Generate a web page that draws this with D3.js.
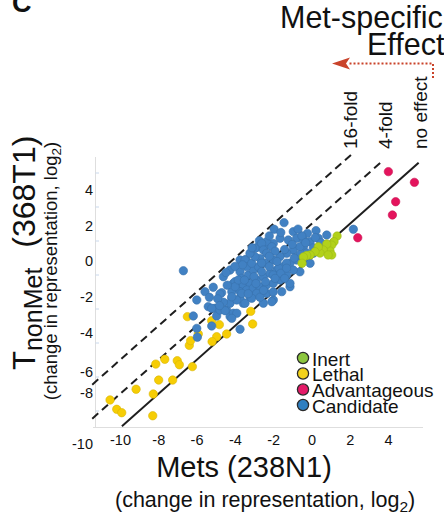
<!DOCTYPE html>
<html><head><meta charset="utf-8">
<script src="https://cdn.jsdelivr.net/npm/d3@7"></script>
<style>body{margin:0;background:#fff}svg{display:block;font-family:"Liberation Sans",Arial,Helvetica,sans-serif}</style>
</head><body><svg id="c" width="444" height="518"></svg>
<script>
// ---- data (log2 change in representation: [Mets (238N1), TnonMet (368T1)]) ----
const categories = ["Inert", "Lethal", "Advantageous", "Candidate"];
const xTicks = [-10, -8, -6, -4, -2, 0, 2, 4];
const yTicks = [4, 2, 0, -2, -4, -6, -8, -10];
const yMinorTicks = [5, 3, 1, -1, -3, -5, -7, -9];
const foldLines = [{label: "16-fold", offset: 4}, {label: "4-fold", offset: 2}, {label: "no effect", offset: 0}];

const lethal = [[-10.52,-8.35],[-10.17,-8.90],[-9.91,-9.10],[-8.29,-9.28],[-9.16,-7.72],[-8.26,-8.00],
 [-7.98,-7.18],[-8.13,-6.24],[-7.66,-5.96],[-7.25,-7.18],[-7.01,-6.04],[-6.90,-6.28],[-6.22,-6.39],
 [-6.38,-5.14],[-6.31,-4.86],[-5.91,-4.47],[-4.95,-4.63],[-4.43,-4.47],[-5.19,-4.92],[-4.81,-3.92],
 [-5.21,-3.69],[-6.48,-3.45],[-3.07,-3.88],[-3.17,-3.14]];

const advantageous = [[4.02,5.08],[5.38,4.45],[4.40,3.31],[4.23,2.53],[2.42,1.19]];

const inert = [[1.34,1.29],[1.18,0.96],[1.06,0.76],[0.97,0.41],[1.06,0.18],[0.80,0.82],[0.62,0.47],
 [0.45,0.29],[0.36,0.66],[0.19,0.37],[-0.07,0.18],[-0.25,0.15],[-0.42,0.06],[-0.49,-0.31],[0.87,0.18]];

const candidate = [[-6.69,-0.75],[-6.17,-3.41],[-5.99,-4.14],[-5.96,-4.66],[-5.99,-2.47],[-5.56,-1.98],
 [-5.39,-2.86],[-5.21,-4.00],[-5.04,-2.96],[-4.95,-3.41],[-4.78,-3.06],[-4.43,-3.06],[-4.25,-3.45],
 [-4.08,-3.25],[-3.73,-4.19],[-5.13,-1.72],[-4.60,-1.10],[-4.25,-0.71],[-3.73,-0.12],[-3.42,-0.08],
 [-4.46,-0.86],[-4.69,-2.04],[-5.33,-2.31],[-2.72,1.02],[-2.83,0.63],[-2.37,0.76],[-1.43,2.08],
 [-1.95,1.69],[-0.95,1.55],[-0.21,1.45],[0.24,1.61],[0.80,1.35],[2.19,1.69],[-1.21,1.06],[-0.77,1.16],
 [-0.42,1.06],[-0.07,0.96],[0.36,1.16],[-1.64,1.16],[-1.99,0.86],[-2.34,0.96],[-2.60,0.86],[-2.95,0.57],
 [-3.47,-0.12],[-3.73,-0.81],[-4.08,-1.49],[-4.16,-1.98],[-2.51,0.47],[-2.07,0.66],[-0.42,0.66],
 [-0.07,-0.31],[-0.60,-0.81],[-1.12,-1.69],[-1.55,-1.98],[-1.99,-2.47],[-2.51,-2.66],[-3.04,-2.08],
 [-3.56,-2.66],[-3.90,-3.25],[0.10,0.28],[-3.99,-1.39],[-3.64,-1.19],[-3.30,-1.00],[-3.04,-0.71],
 [-2.77,-0.51],[-2.42,-0.31],[-3.38,-0.51],[-3.12,-0.31],[-2.69,-0.02],[-2.34,0.28],[-3.90,-1.69],
 [-3.56,-1.59],[-3.21,-1.49],[-2.86,-1.29],[-2.51,-1.10],[-2.16,-0.90],[-3.73,-1.98],[-3.38,-1.88],
 [-3.04,-1.78],[-2.69,-1.69],[-2.34,-1.59],[-4.16,-2.37],[-3.73,-2.37],[-3.21,-2.31],[-2.77,-2.18],
 [-2.34,-2.08],[-2.95,0.08],[-3.21,0.28],[-0.95,0.47],[-1.29,0.28],[-1.64,0.08],[-1.99,-0.12],
 [-0.60,0.66],[-0.77,-0.12],[-1.12,-0.31],[-1.47,-0.51],[-1.81,-0.71],[-0.95,-0.71],[-1.29,-1.00],
 [-1.64,-1.29],[-1.99,-1.49],[-1.12,-1.49],[-4.25,-2.66],[-3.90,-2.47],[-3.64,-2.08],[-2.86,-2.08],
 [-2.07,-2.57],[-3.47,-2.66],[-3.12,-2.37],[-2.69,-2.31],[-4.51,-3.10],[-4.16,-3.55],[-5.21,-2.96],
 [-4.78,-2.12],[-0.42,-0.02],[-0.25,0.30],[0.10,0.60],[-0.60,0.20],[-0.90,0.00],[-1.30,-0.30],
 [-1.70,-0.60],[-2.00,-1.00],[-1.80,-0.20],[-1.40,0.50],[-1.00,0.80],[-0.50,1.30],[-1.90,0.40],
 [-2.20,0.10],[-2.60,-0.30],[-4.16,-2.28],[-3.99,-1.69],[-3.82,-1.29],[-3.00,-1.10],[-2.60,-0.80],
 [-2.20,-0.50],[-1.60,-0.90],[-2.40,-1.40],[-2.90,-1.50],[-3.50,-1.30],[-3.30,-2.10],[-2.50,-1.90],
 [-1.90,-1.20],[-1.30,-0.60],[-0.30,0.90],[0.50,0.90],[0.20,1.20],[-4.60,-2.60],[-4.40,-1.60],
 [-4.90,-2.40],[-1.60,1.50],[-2.20,1.30],[-0.70,1.70],[-3.10,0.60],[-3.60,-0.40],[-4.00,-0.50],
 [-4.80,-2.80],[-2.00,-2.00],[-1.40,-1.20]];

const colors = {Inert: "#b2d11a", Lethal: "#f6cd05", Advantageous: "#e4145d", Candidate: "#4181c3"};
const legendColors = {Inert: "#8cc63e", Lethal: "#f2d21c", Advantageous: "#e41a68", Candidate: "#2f7fc1"};

// ---- drawing ----
const FONT = '"Liberation Sans", Arial, Helvetica, sans-serif';
const svg = d3.select("#c");
svg.append("rect").attr("width", 444).attr("height", 518).attr("fill", "#fff");

const x = d3.scaleLinear().domain([-10, 4]).range([120, 388]);
const y = d3.scaleLinear().domain([-10, 6]).range([428, 156]);
const yLab = d3.scaleLinear().domain([-4, 4]).range([333, 190.5]);

// faint axis frame
svg.append("line").attr("x1", 95.5).attr("x2", 95.5).attr("y1", 157).attr("y2", 427.5)
  .attr("stroke", "#dedede").attr("stroke-width", 1);
svg.append("line").attr("x1", 93).attr("x2", 423).attr("y1", 427.5).attr("y2", 427.5)
  .attr("stroke", "#dedede").attr("stroke-width", 1);
svg.append("g").selectAll("line").data(yMinorTicks).join("line")
  .attr("x1", 95.5).attr("x2", 99).attr("y1", d => y(d)).attr("y2", d => y(d))
  .attr("stroke", "#c9d8ec").attr("stroke-width", 1);

// x axis
const gx = svg.append("g").attr("transform", "translate(0,427)")
  .call(d3.axisBottom(x).tickValues(xTicks).tickSize(0).tickPadding(8).tickFormat(d => String(d)));
gx.select(".domain").remove();
gx.attr("font-size", 14.5).attr("font-family", FONT);
gx.selectAll("text").attr("fill", "#111");

// y axis (labels as printed in the figure)
const labNudge = {"-6": 3.4, "-8": -11, "-10": 4};
const gy = svg.append("g").attr("transform", "translate(93,0)")
  .call(d3.axisLeft(yLab).tickValues(yTicks).tickSize(0).tickPadding(0).tickFormat(d => String(d)));
gy.select(".domain").remove();
gy.attr("font-size", 14.5).attr("font-family", FONT);
gy.selectAll(".tick").attr("transform", d => `translate(0,${yLab(d) + (labNudge[String(d)] || 0)})`);
gy.selectAll("text").attr("fill", "#111");

// reference lines (y = x + offset)
const extents = {"no effect": [-9.9, 5.6], "4-fold": [-11.45, 3.75], "16-fold": [-11.45, 2.2]};
const lineGen = d3.line().x(d => x(d[0])).y(d => y(d[1]));
svg.append("g").selectAll("path").data(foldLines).join("path")
  .attr("d", d => lineGen(extents[d.label].map(v => [v, v + d.offset])))
  .attr("fill", "none").attr("stroke", "#1e1e1e").attr("stroke-width", 2)
  .attr("stroke-dasharray", d => d.offset === 0 ? null : "8,5");

// points
function dots(data, color) {
  svg.append("g").selectAll("circle").data(data).join("circle")
    .attr("cx", d => x(d[0])).attr("cy", d => y(d[1])).attr("r", 4.2)
    .attr("fill", color).attr("stroke", d3.color(color).darker(0.35)).attr("stroke-width", 0.6);
}
dots(lethal, colors.Lethal);
dots(candidate, colors.Candidate);
dots(inert, colors.Inert);
dots(advantageous, colors.Advantageous);

// rotated line labels
const labelX = {"16-fold": 357, "4-fold": 392, "no effect": 427};
svg.append("g").selectAll("text").data(foldLines).join("text")
  .attr("transform", d => `translate(${labelX[d.label]},149) rotate(-90)`)
  .attr("font-size", 19).attr("font-family", FONT).attr("fill", "#111")
  .text(d => d.label);

// legend
const lg = svg.append("g");
const legY = [358, 373.5, 389.5, 405];
categories.forEach((c, i) => {
  lg.append("circle").attr("cx", 303).attr("cy", legY[i]).attr("r", 5.6)
    .attr("fill", legendColors[c]).attr("stroke", "#2a2a2a").attr("stroke-width", 1.3);
  lg.append("text").attr("x", 312).attr("y", legY[i] + 7.5).attr("font-size", 19)
    .attr("font-family", FONT).attr("fill", "#111").text(c);
});

// top annotation
svg.append("text").attr("x", 280).attr("y", 28).attr("font-size", 30.5).attr("font-family", FONT)
  .attr("fill", "#111").text("Met-specific");
svg.append("text").attr("x", 367).attr("y", 55).attr("font-size", 30.5).attr("font-family", FONT)
  .attr("fill", "#111").text("Effect");
const red = "#c9432a";
svg.append("path").attr("d", "M433,78 L433,63.5 L348,63.5")
  .attr("fill", "none").attr("stroke", red).attr("stroke-width", 2).attr("stroke-dasharray", "2,2");
svg.append("path").attr("d", "M332,63.5 L350,57.5 L346,63.5 L350,69.5 Z").attr("fill", red);

// panel letter
svg.append("text").attr("x", 12).attr("y", 12).attr("font-size", 27).attr("font-weight", "bold")
  .attr("font-family", FONT).attr("fill", "#111").text("C");

// x title
svg.append("text").attr("x", 244).attr("y", 477).attr("text-anchor", "middle").attr("font-size", 29)
  .attr("font-family", FONT).attr("fill", "#111").text("Mets (238N1)");
const xs = svg.append("text").attr("x", 115).attr("y", 507).attr("font-size", 21.5)
  .attr("font-family", FONT).attr("fill", "#111");
xs.append("tspan").text("(change in representation, log");
xs.append("tspan").attr("font-size", 15.5).attr("dy", 5).text("2");
xs.append("tspan").attr("dy", -5).text(")");

// y title
const yt = svg.append("text").attr("transform", "translate(35,370) rotate(-90)")
  .attr("font-size", 31).attr("font-family", FONT).attr("fill", "#111");
yt.append("tspan").text("T");
yt.append("tspan").attr("font-size", 25).attr("dy", 7).text("nonMet");
yt.append("tspan").attr("font-size", 32).attr("dy", -7).attr("dx", 20).text("(368T1)");

const ys = svg.append("text").attr("transform", "translate(57,271) rotate(-90)")
  .attr("text-anchor", "middle").attr("font-size", 18.5).attr("font-family", FONT).attr("fill", "#111");
ys.append("tspan").text("(change in representation, log");
ys.append("tspan").attr("font-size", 13.5).attr("dy", 4).text("2");
ys.append("tspan").attr("dy", -4).text(")");
</script>
</body></html>
